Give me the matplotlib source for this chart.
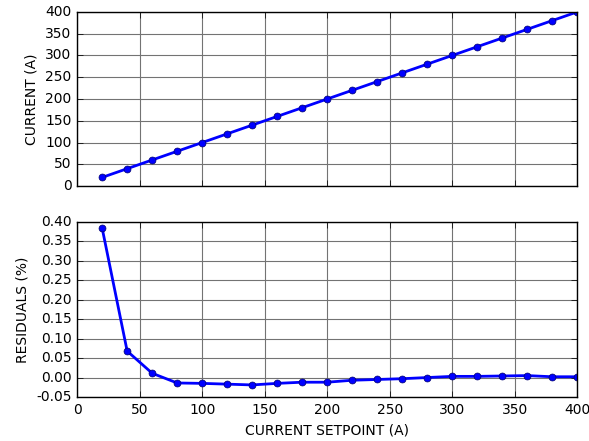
import matplotlib
matplotlib.use("Agg")
import matplotlib.pyplot as plt

setpoint = [20, 40, 60, 80, 100, 120, 140, 160, 180, 200, 220, 240, 260, 280, 300, 320, 340, 360, 380, 400]
current = [20, 40, 60, 80, 100, 120, 140, 160, 180, 200, 220, 240, 260, 280, 300, 320, 340, 360, 380, 400]
residuals = [0.384, 0.068, 0.011, -0.014, -0.015, -0.017, -0.019, -0.015, -0.012, -0.012,
             -0.007, -0.005, -0.003, 0.000, 0.003, 0.003, 0.004, 0.005, 0.002, 0.002]

plt.style.use("classic")
fig = plt.figure(figsize=(5.89, 4.41), dpi=100, facecolor="white")
ax1 = fig.add_axes([0.131, 0.578, 0.849, 0.395])
ax2 = fig.add_axes([0.131, 0.0998, 0.849, 0.397])

for ax in (ax1, ax2):
    ax.grid(True, linestyle="-", color="0.45", linewidth=0.8)
    ax.set_axisbelow(True)
    ax.tick_params(labelsize=10)
    ax.set_xlim(0, 400)

ax1.plot(setpoint, current, "b-o", linewidth=2, markersize=5, markeredgecolor="#00006a")
ax1.set_ylim(0, 400)
ax1.set_yticks(range(0, 401, 50))
ax1.set_xticklabels([])
ax1.set_ylabel("CURRENT (A)", fontsize=10)

ax2.plot(setpoint, residuals, "b-o", linewidth=2, markersize=5, markeredgecolor="#00006a")
ax2.set_ylim(-0.05, 0.40)
ax2.set_yticks([-0.05, 0.0, 0.05, 0.1, 0.15, 0.2, 0.25, 0.3, 0.35, 0.4])
ax2.set_yticklabels(["-0.05", "0.00", "0.05", "0.10", "0.15", "0.20", "0.25", "0.30", "0.35", "0.40"])
ax2.set_ylabel("RESIDUALS (%)", fontsize=10)
ax2.set_xlabel("CURRENT SETPOINT (A)", fontsize=10)

fig.savefig("out.png", dpi=100, facecolor="white")
